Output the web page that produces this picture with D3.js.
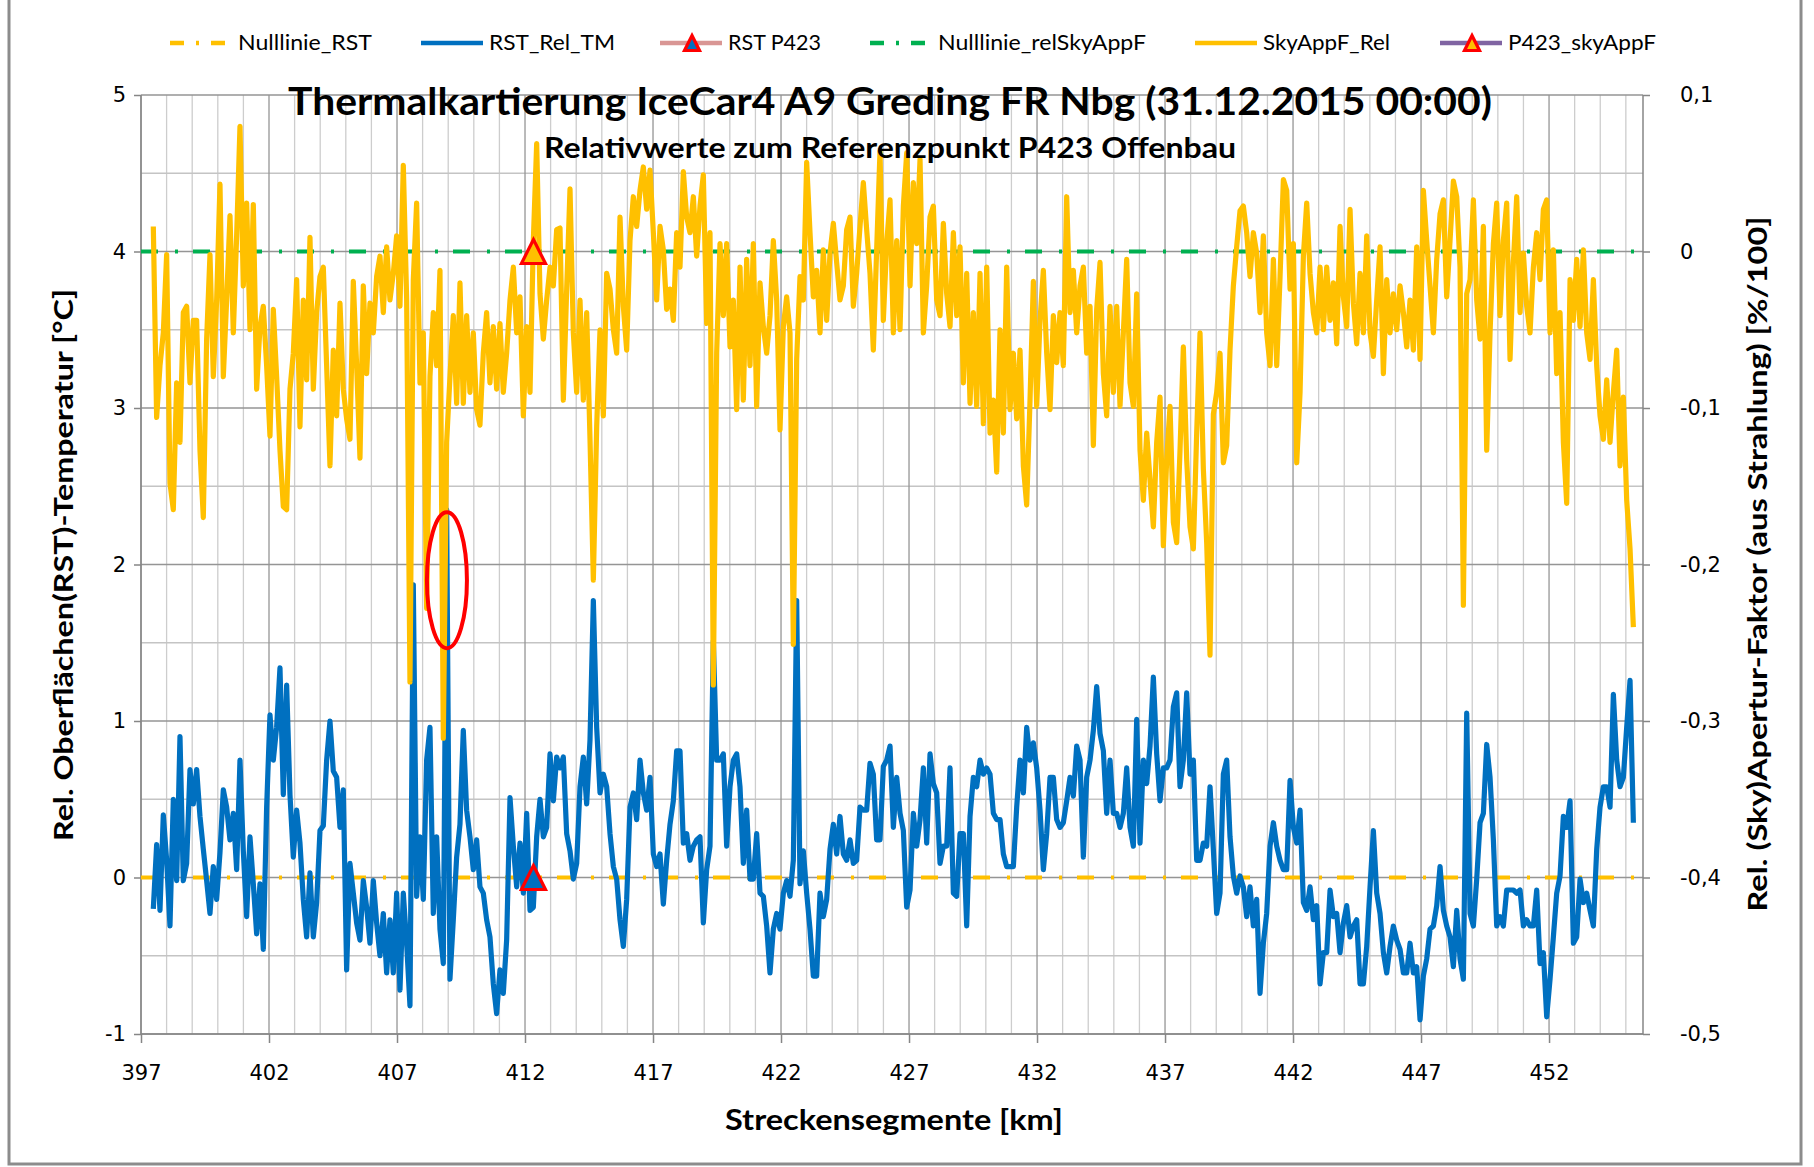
<!DOCTYPE html>
<html>
<head>
<meta charset="utf-8">
<script src="https://cdn.jsdelivr.net/npm/d3@7"></script>
<style>
  body { margin: 0; background: #fff; }
  svg { display: block; }
</style>
</head>
<body>
<div id="viz_area"></div>
<script>
// ---- data ----

// segment spacing along the route and where each block of readings starts [km]
var kmStep = 0.1302;
var blockStart = [397.481, 411.414, 426.258, 441.102];

// RST_Rel_TM : relative road surface temperature [°C]
var rstRel_397 = [-0.20,0.21,-0.21,0.40,0.11,-0.31,0.50,-0.02,0.90,-0.02,
  0.09,0.69,0.47,0.69,0.39,0.18,-0.02,-0.23,0.07,-0.14,
  0.16,0.56,0.45,0.24,0.41,0.05,0.75,0.17,-0.25,0.26,
  -0.04,-0.36,-0.04,-0.46,0.45,1.04,0.75,0.96,1.34,0.53,
  1.23,0.53,0.13,0.43,0.22,-0.14,-0.38,0.03,-0.38,-0.16,
  0.30,0.33,0.75,1.00,0.68,0.64,0.32,0.56,-0.59,0.09,
  -0.10,-0.29,-0.40,-0.02,-0.19,-0.42,-0.02,-0.29,-0.50,-0.23,
  -0.61,-0.27,-0.61,-0.10,-0.72,-0.10,-0.42,-0.82,1.87,-0.12,
  0.26,-0.14,0.75,0.96,-0.23,0.26,-0.33,-0.55,2.35,-0.65,
  -0.27,0.13,0.34,0.94,0.43,0.26,0.05,0.24,-0.06,-0.10,
  -0.27,-0.38,-0.68,-0.87,-0.59,-0.74,-0.40];
var rstRel_411 = [0.51,0.20,-0.06,0.22,-0.10,0.41,-0.21,-0.19,0.26,0.50,
  0.26,0.32,0.79,0.49,0.77,0.70,0.77,0.28,0.17,-0.01,
  0.09,0.58,0.77,0.47,0.88,1.77,0.96,0.54,0.66,0.58,
  0.28,0.07,-0.01,-0.27,-0.44,-0.14,0.45,0.54,0.37,0.75,
  0.54,0.43,0.64,0.15,0.07,0.15,-0.17,0.11,0.34,0.49,
  0.81,0.81,0.22,0.28,0.11,0.20,0.24,0.26,-0.29,0.05,
  0.20,1.51,0.75,0.75,0.79,0.20,0.58,0.75,0.79,0.58,
  0.09,0.43,-0.01,-0.01,0.28,-0.10,-0.12,-0.31,-0.61,-0.33,
  -0.23,-0.33,-0.10,-0.02,-0.12,0.11,1.77,-0.04,0.17,-0.10,
  -0.33,-0.63,-0.63,-0.10,-0.25,-0.14,0.18,0.34,0.15,0.39,
  0.15,0.11,0.24,0.09,0.11,0.45,0.43,0.43,0.73,0.66,
  0.24,0.24,0.71,0.75];
var rstRel_426 = [0.84,0.32,0.64,0.41,0.30,-0.19,-0.08,0.41,0.20,0.37,
  0.70,0.22,0.79,0.60,0.54,0.09,0.20,0.20,0.70,-0.10,
  -0.12,0.28,0.28,-0.31,0.39,0.64,0.58,0.75,0.66,0.70,
  0.66,0.41,0.37,0.37,0.15,0.07,0.07,0.07,0.45,0.75,
  0.54,0.96,0.75,0.86,0.70,0.43,0.05,0.28,0.64,0.64,
  0.37,0.32,0.35,0.49,0.64,0.52,0.84,0.75,0.13,0.64,
  0.75,0.94,1.22,0.92,0.81,0.41,0.75,0.41,0.41,0.32,
  0.41,0.70,0.32,0.20,1.01,0.22,0.75,0.60,0.84,1.28,
  0.79,0.49,0.70,0.70,0.75,1.09,1.18,0.58,0.75,1.18,
  0.66,0.75,0.11,0.11,0.22,0.20,0.58,0.18,-0.23,-0.10,
  0.66,0.75,0.26,0.01,-0.10,0.01,-0.06,-0.25,-0.06,-0.31,
  -0.14,-0.74,-0.42,-0.23];
var rstRel_441 = [0.20,0.35,0.20,0.11,0.05,0.05,0.62,0.32,0.22,0.43,
  -0.16,-0.21,-0.06,-0.27,-0.18,-0.68,-0.48,-0.48,-0.08,-0.25,
  -0.23,-0.48,-0.29,-0.18,-0.38,-0.31,-0.27,-0.68,-0.68,-0.44,
  -0.06,0.30,-0.10,-0.23,-0.48,-0.61,-0.44,-0.31,-0.40,-0.46,
  -0.61,-0.61,-0.42,-0.61,-0.57,-0.91,-0.63,-0.52,-0.33,-0.31,
  -0.18,0.07,-0.21,-0.31,-0.38,-0.57,-0.21,-0.52,-0.65,1.05,
  -0.23,-0.31,-0.01,0.35,0.41,0.85,0.64,0.24,-0.31,-0.25,
  -0.31,-0.08,-0.08,-0.08,-0.10,-0.08,-0.31,-0.27,-0.31,-0.31,
  -0.08,-0.55,-0.48,-0.89,-0.65,-0.38,-0.10,0.01,0.39,0.32,
  0.49,-0.42,-0.38,-0.01,-0.16,-0.10,-0.21,-0.31,0.18,0.45,
  0.58,0.58,0.45,1.17,0.75,0.58,0.64,0.96,1.26,0.35];

// SkyAppF_Rel : relative sky aperture factor [%/100] (right axis)
var skyRel_397 = [0.016,-0.106,-0.073,-0.052,-0.002,-0.148,-0.165,-0.084,-0.122,-0.039,
  -0.035,-0.084,-0.044,-0.044,-0.127,-0.170,-0.056,-0.002,-0.080,-0.031,
  0.043,-0.080,-0.031,0.023,-0.052,0.010,0.080,-0.022,0.031,-0.050,
  0.030,-0.088,-0.048,-0.035,-0.073,-0.118,-0.037,-0.080,-0.127,-0.163,
  -0.165,-0.088,-0.065,-0.018,-0.112,-0.031,-0.082,0.009,-0.088,-0.039,
  -0.016,-0.010,-0.073,-0.137,-0.063,-0.105,-0.033,-0.088,-0.107,-0.120,
  -0.019,-0.073,-0.132,-0.022,-0.078,-0.033,-0.052,-0.016,-0.003,-0.039,
  0.003,-0.031,-0.014,0.010,-0.035,0.055,-0.030,-0.275,-0.018,0.031,
  -0.084,-0.052,-0.228,-0.080,-0.039,-0.073,-0.012,-0.311,-0.122,-0.080,
  -0.041,-0.097,-0.020,-0.097,-0.041,-0.090,-0.052,-0.101,-0.111,-0.065,
  -0.039,-0.084,-0.048,-0.088,-0.046,-0.090,-0.065];
var skyRel_411 = [-0.031,-0.010,-0.052,-0.029,-0.105,-0.048,-0.090,0.007,0.069,-0.027,
  -0.056,-0.031,-0.010,-0.022,0.014,0.015,-0.095,-0.024,0.040,-0.052,
  -0.090,-0.031,-0.095,-0.039,-0.120,-0.210,-0.112,-0.050,-0.105,-0.014,
  -0.024,-0.050,-0.065,0.022,-0.035,-0.063,0.007,0.035,0.016,0.039,
  0.054,0.027,0.052,0.012,-0.031,0.016,0.001,-0.037,-0.024,-0.044,
  0.012,-0.010,0.051,0.022,0.012,0.035,-0.003,0.029,0.049,-0.046,
  0.012,-0.277,-0.065,0.005,-0.041,0.005,-0.061,-0.031,-0.101,-0.010,
  -0.095,-0.005,-0.073,0.005,-0.099,-0.020,-0.048,-0.065,-0.041,0.007,
  -0.031,-0.114,-0.048,-0.029,-0.052,-0.251,-0.069,-0.016,-0.031,0.057,
  0.012,-0.029,-0.012,-0.052,0.001,-0.044,-0.001,0.018,-0.007,-0.031,
  -0.022,0.014,0.022,-0.035,-0.014,0.016,0.044,0.014,-0.014,-0.063,
  0.001,0.064,-0.044,0.005];
var skyRel_426 = [0.033,-0.052,0.007,-0.050,0.029,0.063,-0.022,0.044,0.005,0.059,
  -0.052,-0.022,0.022,0.029,-0.031,-0.041,0.018,-0.027,-0.048,0.012,
  -0.041,0.003,-0.084,-0.014,-0.097,-0.039,-0.099,-0.014,-0.110,-0.010,
  -0.116,-0.095,-0.141,-0.050,-0.116,-0.010,-0.101,-0.065,-0.107,-0.063,
  -0.137,-0.162,-0.095,-0.019,-0.099,-0.044,-0.012,-0.065,-0.101,-0.041,
  -0.071,-0.039,-0.073,0.035,-0.039,-0.012,-0.052,-0.022,-0.010,-0.065,
  -0.035,-0.124,-0.037,-0.007,-0.078,-0.105,-0.035,-0.090,-0.035,-0.099,
  -0.052,-0.005,-0.084,-0.099,-0.027,-0.127,-0.159,-0.116,-0.146,-0.176,
  -0.122,-0.093,-0.188,-0.133,-0.099,-0.173,-0.186,-0.127,-0.061,-0.133,
  -0.176,-0.190,-0.116,-0.052,-0.139,-0.186,-0.258,-0.104,-0.090,-0.065,
  -0.135,-0.124,-0.063,-0.022,0.003,0.026,0.029,0.012,-0.016,0.012,
  -0.001,-0.039,0.010,-0.052];
var skyRel_441 = [-0.073,-0.005,-0.073,-0.016,0.046,0.039,-0.024,0.005,-0.135,-0.090,
  -0.003,0.031,-0.014,-0.039,-0.052,-0.010,-0.050,-0.010,-0.044,-0.020,
  -0.059,0.016,-0.029,-0.048,0.027,-0.033,-0.059,-0.014,-0.052,0.010,
  -0.052,-0.067,-0.031,0.003,-0.078,-0.018,-0.052,-0.027,-0.050,-0.022,
  -0.039,-0.061,-0.031,-0.063,0.003,-0.069,0.039,0.007,-0.022,-0.052,
  -0.005,0.024,0.033,-0.029,0.007,0.045,0.035,-0.010,-0.226,-0.027,
  -0.018,0.033,-0.031,-0.056,0.016,-0.127,-0.052,0.005,0.031,-0.041,
  0.007,0.031,-0.069,-0.007,0.035,-0.039,-0.001,-0.035,-0.052,-0.010,
  0.012,-0.018,0.027,0.033,-0.052,0.001,-0.078,-0.039,-0.122,-0.161,
  -0.018,-0.044,-0.005,-0.048,0.001,-0.052,-0.069,-0.018,-0.073,-0.105,
  -0.120,-0.082,-0.122,-0.090,-0.063,-0.137,-0.093,-0.159,-0.190,-0.240];

// reference point P423 Offenbau
var p423Km = 412.33;
var rstP423 = 0;
var skyP423 = 0;

// zero lines
var nullRST = 0;
var nullSky = 0;

// axes
var xTickKm = [397, 402, 407, 412, 417, 422, 427, 432, 437, 442, 447, 452];
var yLeftTicks = [-1, 0, 1, 2, 3, 4, 5];
var yRightTicks = [-0.5, -0.4, -0.3, -0.2, -0.1, 0, 0.1];

var legendNames = ["Nulllinie_RST", "RST_Rel_TM", "RST P423", "Nulllinie_relSkyAppF", "SkyAppF_Rel", "P423_skyAppF"];

// red hand-drawn ellipse (km, °C)
var markKm = 408.95, markVal = 1.9;


function __init__() {
    drawChart();
}

function blocks(list) {
    // turn the reading blocks into {km, v} points
    var out = [];
    list.forEach(function(vals, b) {
        vals.forEach(function(v, i) {
            out.push({ km: blockStart[b] + i * kmStep, v: v });
        });
    });
    return out;
}

function drawChart() {
    var W = 1814, H = 1167;
    var left = 141, right = 1643, top = 95, bottom = 1034;

    var BLUE = "#0070C0", YELLOW = "#FFC000", GREEN = "#00B050", RED = "#FF0000";
    var FONT = "Lato, 'Open Sans', sans-serif";
    var TICKFONT = "'DejaVu Sans', Verdana, sans-serif";

    var x = d3.scaleLinear().domain([397, 455.67]).range([left, right]);
    var yL = d3.scaleLinear().domain([-1, 5]).range([bottom, top]);
    var yR = d3.scaleLinear().domain([-0.5, 0.1]).range([bottom, top]);

    var svg = d3.select("#viz_area")
                .append("svg")
                .attr("width", W)
                .attr("height", H);

    svg.append("rect").attr("width", W).attr("height", H).attr("fill", "#fff");

    // chart area frame
    svg.append("rect")
       .attr("x", 9).attr("y", -10)
       .attr("width", 1792).attr("height", 1174)
       .attr("fill", "none")
       .attr("stroke", "#8c8c8c")
       .attr("stroke-width", 3);

    // grid lines
    var grid = svg.append("g");
    grid.selectAll("line.vmin")
        .data(d3.range(398, 456).filter(function(k) { return (k - 397) % 5 != 0; }))
        .enter().append("line")
        .attr("x1", function(d) { return x(d); }).attr("x2", function(d) { return x(d); })
        .attr("y1", top).attr("y2", bottom)
        .attr("stroke", "#cdcdcd").attr("stroke-width", 1.3);
    grid.selectAll("line.hmin")
        .data([-0.5, 0.5, 1.5, 2.5, 3.5, 4.5])
        .enter().append("line")
        .attr("x1", left).attr("x2", right)
        .attr("y1", function(d) { return yL(d); }).attr("y2", function(d) { return yL(d); })
        .attr("stroke", "#c4c4c4").attr("stroke-width", 1.3);
    grid.selectAll("line.vmaj")
        .data(xTickKm)
        .enter().append("line")
        .attr("x1", function(d) { return x(d); }).attr("x2", function(d) { return x(d); })
        .attr("y1", top).attr("y2", bottom)
        .attr("stroke", "#959595").attr("stroke-width", 1.3);
    grid.selectAll("line.hmaj")
        .data(yLeftTicks)
        .enter().append("line")
        .attr("x1", left).attr("x2", right)
        .attr("y1", function(d) { return yL(d); }).attr("y2", function(d) { return yL(d); })
        .attr("stroke", "#959595").attr("stroke-width", 1.3);

    // axes (German style numbers, plain hyphen for minus)
    var numFmt = function(d) { return d == 0 ? "0" : String(d).replace(".", ","); };
    var axL = svg.append("g").attr("transform", "translate(" + left + ",0)")
                 .call(d3.axisLeft(yL).tickValues(yLeftTicks).tickSize(7).tickSizeOuter(0).tickPadding(8)
                        .tickFormat(numFmt));
    var axR = svg.append("g").attr("transform", "translate(" + right + ",0)")
                 .call(d3.axisRight(yR).tickValues(yRightTicks).tickSize(7).tickSizeOuter(0).tickPadding(30)
                        .tickFormat(function(d) { return d == 0 ? "0" : d.toFixed(1).replace(".", ","); }));
    var axB = svg.append("g").attr("transform", "translate(0," + bottom + ")")
                 .call(d3.axisBottom(x).tickValues(xTickKm).tickSize(9).tickSizeOuter(0).tickPadding(22)
                        .tickFormat(d3.format("d")));
    [axL, axR, axB].forEach(function(a) {
        a.selectAll("path, line").attr("stroke", "#868686").attr("stroke-width", 1.5);
        a.selectAll("text").attr("font-family", TICKFONT).attr("font-size", 21).attr("fill", "#000");
    });
    axL.select("path").attr("d", "M0," + top + "V" + bottom);
    axR.select("path").attr("d", "M0," + top + "V" + bottom);
    axB.select("path").attr("d", "M" + left + ",0H" + right);
    axR.selectAll("text").attr("text-anchor", "start").attr("x", 37);

    // series
    var rstPts = blocks([rstRel_397, rstRel_411, rstRel_426, rstRel_441]);
    var skyPts = blocks([skyRel_397, skyRel_411, skyRel_426, skyRel_441]);

    var lineL = d3.line().x(function(d) { return x(d.km); }).y(function(d) { return yL(d.v); });
    var lineR = d3.line().x(function(d) { return x(d.km); }).y(function(d) { return yR(d.v); });

    var plot = svg.append("g");

    // Nulllinie_RST
    plot.append("line")
        .attr("x1", x(397)).attr("x2", x(455.6))
        .attr("y1", yL(nullRST)).attr("y2", yL(nullRST))
        .attr("stroke", YELLOW).attr("stroke-width", 4)
        .attr("stroke-dasharray", "17,17,3,15");

    // RST_Rel_TM
    plot.append("path").datum(rstPts)
        .attr("d", lineL)
        .attr("fill", "none").attr("stroke", BLUE)
        .attr("stroke-width", 5.2).attr("stroke-linejoin", "round");

    function triangle(g, cx, cy, s, fill) {
        g.append("path")
         .attr("d", "M" + cx + "," + (cy - s / 2) + "L" + (cx + s / 2) + "," + (cy + s / 2) + "L" + (cx - s / 2) + "," + (cy + s / 2) + "Z")
         .attr("fill", fill).attr("stroke", RED).attr("stroke-width", 3.2).attr("stroke-linejoin", "miter");
    }

    // RST P423
    triangle(plot, x(p423Km), yL(rstP423), 24, BLUE);

    // Nulllinie_relSkyAppF
    plot.append("line")
        .attr("x1", x(397)).attr("x2", x(455.6))
        .attr("y1", yR(nullSky)).attr("y2", yR(nullSky))
        .attr("stroke", GREEN).attr("stroke-width", 4)
        .attr("stroke-dasharray", "17,17,3,15");

    // SkyAppF_Rel
    plot.append("path").datum(skyPts)
        .attr("d", lineR)
        .attr("fill", "none").attr("stroke", YELLOW)
        .attr("stroke-width", 5.2).attr("stroke-linejoin", "round");

    // P423_skyAppF
    triangle(plot, x(p423Km), yR(skyP423), 24, YELLOW);

    // red ellipse
    svg.append("ellipse")
       .attr("cx", x(markKm)).attr("cy", yL(markVal))
       .attr("rx", 20).attr("ry", 68)
       .attr("fill", "none").attr("stroke", RED).attr("stroke-width", 4);

    // titles
    svg.append("text")
       .attr("x", 890).attr("y", 115)
       .attr("text-anchor", "middle")
       .attr("font-family", FONT).attr("font-weight", "bold").attr("font-size", 38)
       .attr("textLength", 1204).attr("lengthAdjust", "spacingAndGlyphs")
       .text("Thermalkartierung IceCar4 A9 Greding FR Nbg (31.12.2015 00:00)");
    svg.append("text")
       .attr("x", 890).attr("y", 158)
       .attr("text-anchor", "middle")
       .attr("font-family", FONT).attr("font-weight", "bold").attr("font-size", 29)
       .attr("textLength", 692).attr("lengthAdjust", "spacingAndGlyphs")
       .text("Relativwerte zum Referenzpunkt P423 Offenbau");

    svg.append("text")
       .attr("transform", "translate(73,565) rotate(-90)")
       .attr("text-anchor", "middle")
       .attr("font-family", FONT).attr("font-weight", "bold").attr("font-size", 27)
       .attr("textLength", 552).attr("lengthAdjust", "spacingAndGlyphs")
       .text("Rel. Oberflächen(RST)-Temperatur [°C]");
    svg.append("text")
       .attr("transform", "translate(1767,564) rotate(-90)")
       .attr("text-anchor", "middle")
       .attr("font-family", FONT).attr("font-weight", "bold").attr("font-size", 27)
       .attr("textLength", 695).attr("lengthAdjust", "spacingAndGlyphs")
       .text("Rel. (Sky)Apertur-Faktor (aus Strahlung) [%/100]");
    svg.append("text")
       .attr("x", 894).attr("y", 1130)
       .attr("text-anchor", "middle")
       .attr("font-family", FONT).attr("font-weight", "bold").attr("font-size", 28)
       .attr("textLength", 338).attr("lengthAdjust", "spacingAndGlyphs")
       .text("Streckensegmente [km]");

    // legend
    var legX = [170, 421, 660, 870, 1195, 1440];
    var legTextW = [134, 126, 93, 208, 127, 148];
    var legColor = [YELLOW, BLUE, "#D99694", GREEN, YELLOW, "#8064A2"];
    var legDash = ["14,12,3,12", null, null, "14,12,3,12", null, null];
    var legMark = [null, null, BLUE, null, null, YELLOW];
    var legY = 43;
    var leg = svg.append("g");
    legendNames.forEach(function(name, i) {
        leg.append("line")
           .attr("x1", legX[i]).attr("x2", legX[i] + 62)
           .attr("y1", legY).attr("y2", legY)
           .attr("stroke", legColor[i]).attr("stroke-width", 4.5)
           .attr("stroke-dasharray", legDash[i]);
        if (legMark[i]) triangle(leg, legX[i] + 32, legY, 15, legMark[i]);
        leg.append("text")
           .attr("x", legX[i] + 68).attr("y", legY)
           .attr("dy", "0.35em")
           .attr("font-family", FONT).attr("font-size", 21).attr("fill", "#000")
           .attr("textLength", legTextW[i]).attr("lengthAdjust", "spacingAndGlyphs")
           .text(name);
    });
}

window.onload = __init__;
</script>
</body>
</html>
